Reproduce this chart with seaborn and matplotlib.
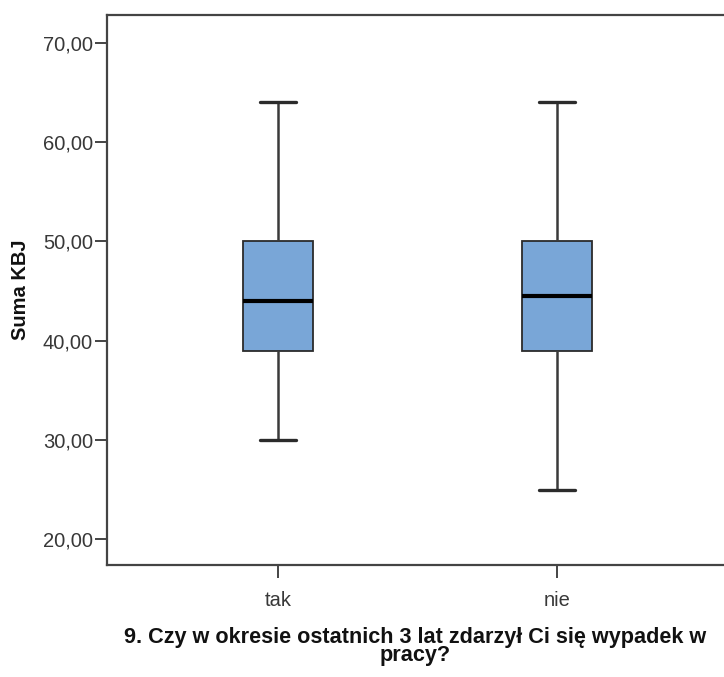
import matplotlib
matplotlib.use("Agg")
import matplotlib.pyplot as plt
import seaborn as sns
import pandas as pd
from matplotlib.ticker import FuncFormatter

# Five-number summaries per group
categories = ["tak", "nie"]
whisker_low = [30.0, 25.0]
q1 = [39.0, 39.0]
median = [44.0, 44.5]
q3 = [50.0, 50.0]
whisker_high = [64.0, 64.0]

y_ticks = [20, 30, 40, 50, 60, 70]

# Five points per group reproduce exactly these quartiles and whisker ends
rows = []
for i, cat in enumerate(categories):
    for v in (whisker_low[i], q1[i], median[i], q3[i], whisker_high[i]):
        rows.append({"group": cat, "value": v})
df = pd.DataFrame(rows)

sns.set_theme(style="white")
plt.rcParams["font.family"] = ["Liberation Sans", "DejaVu Sans"]

fig = plt.figure(figsize=(7.24, 6.77), dpi=100)
ax = fig.add_axes([107 / 724, 1 - 565 / 677, (724 - 107) / 724, (565 - 15) / 677])

edge = "#2b2b2b"
sns.boxplot(
    data=df, x="group", y="value", order=categories, ax=ax,
    width=0.25, whis=1.5, color="#79a6d7", saturation=1,
    boxprops=dict(edgecolor=edge, linewidth=1.3),
    whiskerprops=dict(color="#3a3a3a", linewidth=1.8),
    capprops=dict(color=edge, linewidth=2.4),
    medianprops=dict(color="black", linewidth=3.0),
    capwidths=0.13,
    showfliers=False,
)

ax.set_xlim(-0.613, (724 - 278) / 279)
ax.set_ylim(17.4, 72.8)
ax.set_yticks(y_ticks)
ax.yaxis.set_major_formatter(FuncFormatter(lambda v, p: f"{v:.2f}".replace(".", ",")))

for side in ("left", "bottom", "top"):
    ax.spines[side].set_visible(True)
    ax.spines[side].set_color("#444444")
    ax.spines[side].set_linewidth(1.6)
ax.spines["right"].set_visible(False)

ax.tick_params(axis="y", which="major", direction="out", length=9, width=1.4,
               color="#444444", labelcolor="#383838", labelsize=14.5, pad=1,
               left=True)
ax.tick_params(axis="x", which="major", direction="out", length=9, width=1.4,
               color="#444444", labelcolor="#383838", labelsize=14.5, pad=10,
               bottom=True)

ax.set_xlabel("9. Czy w okresie ostatnich 3 lat zdarzył Ci się wypadek w\npracy?",
              fontsize=15.6, fontweight="bold", color="#111111", labelpad=12,
              linespacing=0.82)
ax.set_ylabel("Suma KBJ", fontsize=14.5, fontweight="bold", color="#111111", labelpad=9)

fig.savefig("out.png", dpi=100)
